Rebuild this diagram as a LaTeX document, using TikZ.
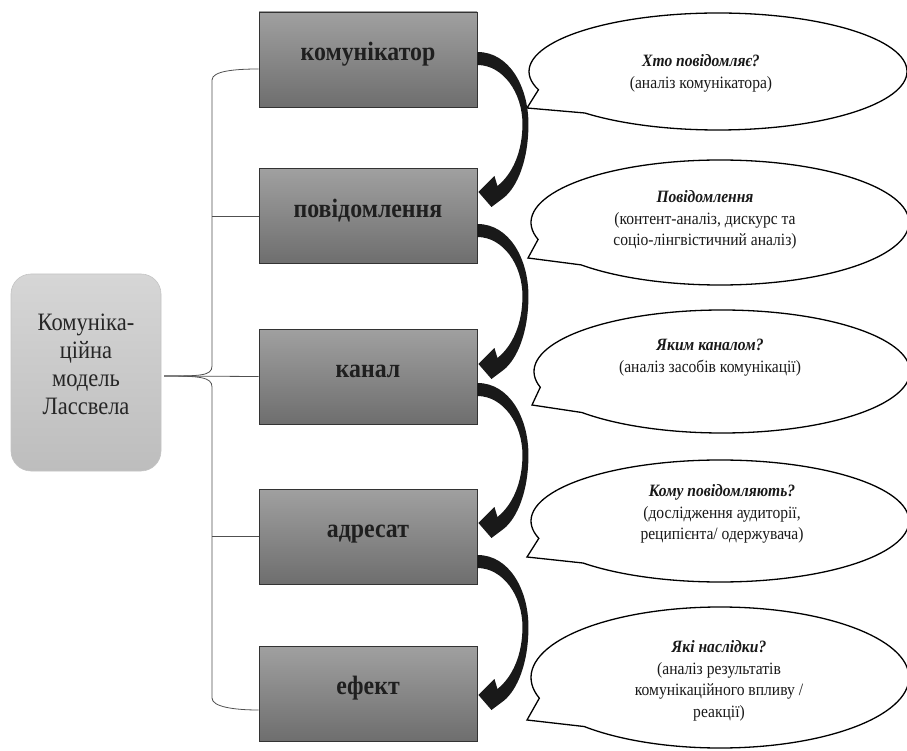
\documentclass[tikz,border=0pt]{standalone}
\usepackage{fontspec}
\setmainfont[FakeStretch=0.9]{Liberation Serif}
\usetikzlibrary{shapes.callouts,calc}

\definecolor{boxtop}{HTML}{A0A0A0}
\definecolor{boxbot}{HTML}{6E6E6E}
\definecolor{mtop}{HTML}{D6D6D6}
\definecolor{mbot}{HTML}{BDBDBD}
\definecolor{mbord}{HTML}{C4C4C4}
\definecolor{bracegray}{HTML}{505050}

\begin{document}
\begin{tikzpicture}[x=1pt, y=-1pt,
  stage/.style={rectangle, draw=black!80, line width=0.9pt, top color=boxtop,
    bottom color=boxbot, minimum width=218pt, minimum height=95pt,
    font=\fontsize{26.5}{30}\selectfont\bfseries, text=black!88,
    text height=0.7em, text depth=0.45em},
  model/.style={rectangle, rounded corners=20pt, draw=mbord, line width=0.6pt,
    top color=mtop, bottom color=mbot, minimum width=150pt, minimum height=197pt,
    align=center, font=\fontsize{25}{28}\selectfont, text=black!85},
  bubble/.style={ellipse callout, draw=black, line width=1.3pt, fill=white,
    callout pointer arc=27},
  note/.style={align=center, font=\fontsize{17.3}{21.5}\selectfont, text=black!90},
  brace/.style={draw=bracegray, line width=0.8pt},
  bigarrow/.style={fill=black!90}]
  \useasboundingbox (0,0) rectangle (907,751);

  \node[model] (lm) at (86,372.5) {Комуніка-\\ційна\\модель\\Лассвела\\[-12pt]};

  \node[stage] (kom) at (368,59.5) {комунікатор};
  \node[stage] (pov) at (368,216) {повідомлення};
  \node[stage] (kan) at (368,376.5) {канал};
  \node[stage] (adr) at (368,536.5) {адресат};
  \node[stage] (efe) at (368,693.5) {ефект};

  % brace from the model to the five stages
  \coordinate (bt) at (164,376);
  \draw[brace] (bt) .. controls (200,376) and (212,376) .. (212,366) -- (212,80)
    .. controls (212,71) and (235,69) .. ($(kom.west)+(0,9.5)$);
  \draw[brace] (bt) .. controls (200,376) and (212,377) .. (212,387) -- (212,698)
    .. controls (212,707) and (235,710) .. ($(efe.west)+(0,16.5)$);
  \draw[brace] (bt) -- (kan.west);
  \draw[brace] (pov.west) -- ++(-47,0);
  \draw[brace] (adr.west) -- ++(-47,0);

  % speech bubbles
  \node[bubble, minimum width=378pt, minimum height=117pt,
    callout absolute pointer={(527,108)}] (q1) at (718,71.5) {};
  \node[bubble, minimum width=378pt, minimum height=125pt,
    callout absolute pointer={(528,258)}] (q2) at (720,222.5) {};
  \node[bubble, minimum width=376pt, minimum height=123pt,
    callout absolute pointer={(532,405)}] (q3) at (722,371.5) {};
  \node[bubble, minimum width=378pt, minimum height=122pt,
    callout absolute pointer={(527,557)}] (q4) at (720,521) {};
  \node[bubble, minimum width=378pt, minimum height=141pt,
    callout absolute pointer={(527,720)}] (q5) at (720,677.5) {};

  \node[note] (t1) at (701,73.5) {\textbf{\textit{Хто повідомляє?}}\\(аналіз комунікатора)};
  \node[note] (t2) at (705,220) {\textbf{\textit{Повідомлення}}\\(контент-аналіз, дискурс та\\соціо-лінгвістичний аналіз)};
  \node[note] (t3) at (710,357.5) {\textbf{\textit{Яким каналом?}}\\(аналіз засобів комунікації)};
  \node[note] (t4) at (722,514) {\textbf{\textit{Кому повідомляють?}}\\(дослідження аудиторії,\\реципієнта/ одержувача)};
  \node[note] (t5) at (719,681) {\textbf{\textit{Які наслідки?}}\\(аналіз результатів\\комунікаційного впливу /\\реакції)};

  % curved arrows between the stages
  \foreach \a/\s in {kom/-7.5, pov/8, kan/6.5, adr/18.5}
    \fill[bigarrow, shift={($(\a.east)+(0,\s)$)}] (0,0)
      .. controls (32,0) and (51,35) .. (51,72)
      .. controls (51,108) and (40,135) .. (26,146) -- (14,155) -- (1,140)
      -- (17,124) -- (20,134) .. controls (35,122) and (45,100) .. (45,72)
      .. controls (45,40) and (25,13) .. (0,13) -- cycle;
\end{tikzpicture}
\end{document}
